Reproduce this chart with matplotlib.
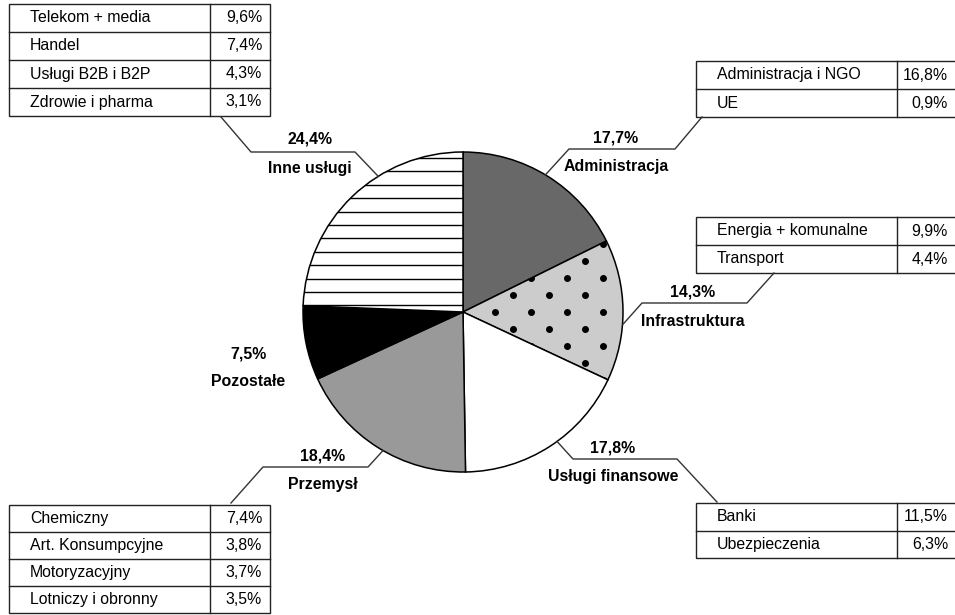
import numpy as np
import matplotlib
matplotlib.use("Agg")
import matplotlib.pyplot as plt
from matplotlib.patches import Rectangle

# sector shares (clockwise from the top)
sectors = ["Administracja", "Infrastruktura", "Usługi finansowe",
           "Przemysł", "Pozostałe", "Inne usługi"]
shares = [17.7, 14.3, 17.8, 18.4, 7.5, 24.4]

# breakdown tables
inne_names = ["Telekom + media", "Handel", "Usługi B2B i B2P", "Zdrowie i pharma"]
inne_vals = [9.6, 7.4, 4.3, 3.1]
admin_names = ["Administracja i NGO", "UE"]
admin_vals = [16.8, 0.9]
infra_names = ["Energia + komunalne", "Transport"]
infra_vals = [9.9, 4.4]
fin_names = ["Banki", "Ubezpieczenia"]
fin_vals = [11.5, 6.3]
przem_names = ["Chemiczny", "Art. Konsumpcyjne", "Motoryzacyjny", "Lotniczy i obronny"]
przem_vals = [7.4, 3.8, 3.7, 3.5]

colors = ["#686868", "#cccccc", "white", "#999999", "black", "white"]

W, H = 955, 615
plt.rcParams["font.family"] = ["Liberation Sans", "DejaVu Sans"]


def fy(y):
    # layout is given top-down in pixels
    return H - y


def pct(v):
    return f"{v:.1f}%".replace(".", ",")


fig = plt.figure(figsize=(W / 100, H / 100), dpi=100)
ax = fig.add_axes([0, 0, 1, 1])

cx, cy, r = 463, fy(312), 160
wedges, _ = ax.pie(shares, colors=colors, startangle=90, counterclock=False,
                   center=(cx, cy), radius=r,
                   wedgeprops=dict(edgecolor="black", linewidth=1.1))
ax.set_xlim(0, W)
ax.set_ylim(0, H)
ax.set_aspect("equal")
ax.axis("off")

# horizontal stripes in "Inne usługi"
ys = np.arange(cy + r - 6, cy, -13.4)
stripes = ax.hlines(ys, cx - r, cx, color="black", lw=1)
stripes.set_clip_path(wedges[5])

# dots in "Infrastruktura"
dx_, dy_ = [], []
for i, y in enumerate(np.arange(cy - 85, cy + 80, 17)):
    for x in np.arange(cx + 14 + (i % 2) * 18, cx + r - 4, 36):
        dx_.append(x)
        dy_.append(y)
dots = ax.scatter(dx_, dy_, s=16, color="black", zorder=3)
dots.set_clip_path(wedges[1])


def draw_table(x0, x1, xdiv, ytop, row_h, names, vals, val_x):
    n = len(names)
    ybot = ytop + n * row_h
    ax.add_patch(Rectangle((x0, fy(ybot)), x1 - x0, n * row_h, fill=False,
                           edgecolor="#222222", lw=1, clip_on=True))
    for k in range(1, n):
        ax.plot([x0, x1], [fy(ytop + k * row_h)] * 2, color="#222222", lw=1)
    ax.plot([xdiv, xdiv], [fy(ytop), fy(ybot)], color="#222222", lw=1)
    for k, (nm, v) in enumerate(zip(names, vals)):
        yc = fy(ytop + (k + 0.5) * row_h)
        ax.text(x0 + 21, yc, nm, ha="left", va="center", fontsize=11.4)
        ax.text(val_x, yc, pct(v), ha="right", va="center", fontsize=11.4)


draw_table(9, 270, 210, 4, 28, inne_names, inne_vals, 262)
draw_table(9, 270, 210, 505, 27, przem_names, przem_vals, 262)
draw_table(696, W + 3, 897, 61, 28, admin_names, admin_vals, 948)
draw_table(696, W + 3, 897, 217, 28, infra_names, infra_vals, 948)
draw_table(696, W + 3, 897, 503, 27.5, fin_names, fin_vals, 948)


def pie_point(angle):
    a = np.deg2rad(angle)
    return cx + r * np.cos(a), cy + r * np.sin(a)


# leader lines: table side, elbow points, angle where they touch the pie
leaders = {
    5: ([(221, 117), (251, 152), (355, 152)], 122),
    0: ([(702, 117), (675, 149), (569, 149)], 59),
    1: ([(774, 273), (747, 303), (642, 303)], -4.6),
    2: ([(717, 502), (677, 459), (573, 459)], -54),
    3: ([(231, 503), (263, 467), (368, 467)], -120),
}
for idx, (pts, ang) in leaders.items():
    xs = [p[0] for p in pts]
    ys_ = [fy(p[1]) for p in pts]
    px, py = pie_point(ang)
    ax.plot(xs + [px], ys_ + [py], color="#333333", lw=1)

# sector captions: share above, name below
captions = {
    5: (310, 139, 169),
    0: (616, 138, 167),
    1: (693, 292, 321),
    2: (613, 448, 476),
    3: (323, 456, 484),
    4: (248, 354, 382),
}
for idx, (x, y1, y2) in captions.items():
    ax.text(x, fy(y1), pct(shares[idx]), ha="center", va="center",
            fontsize=11.4, fontweight="bold")
    ax.text(x, fy(y2), sectors[idx], ha="center", va="center",
            fontsize=11.4, fontweight="bold")

fig.savefig("out.png", dpi=100)
